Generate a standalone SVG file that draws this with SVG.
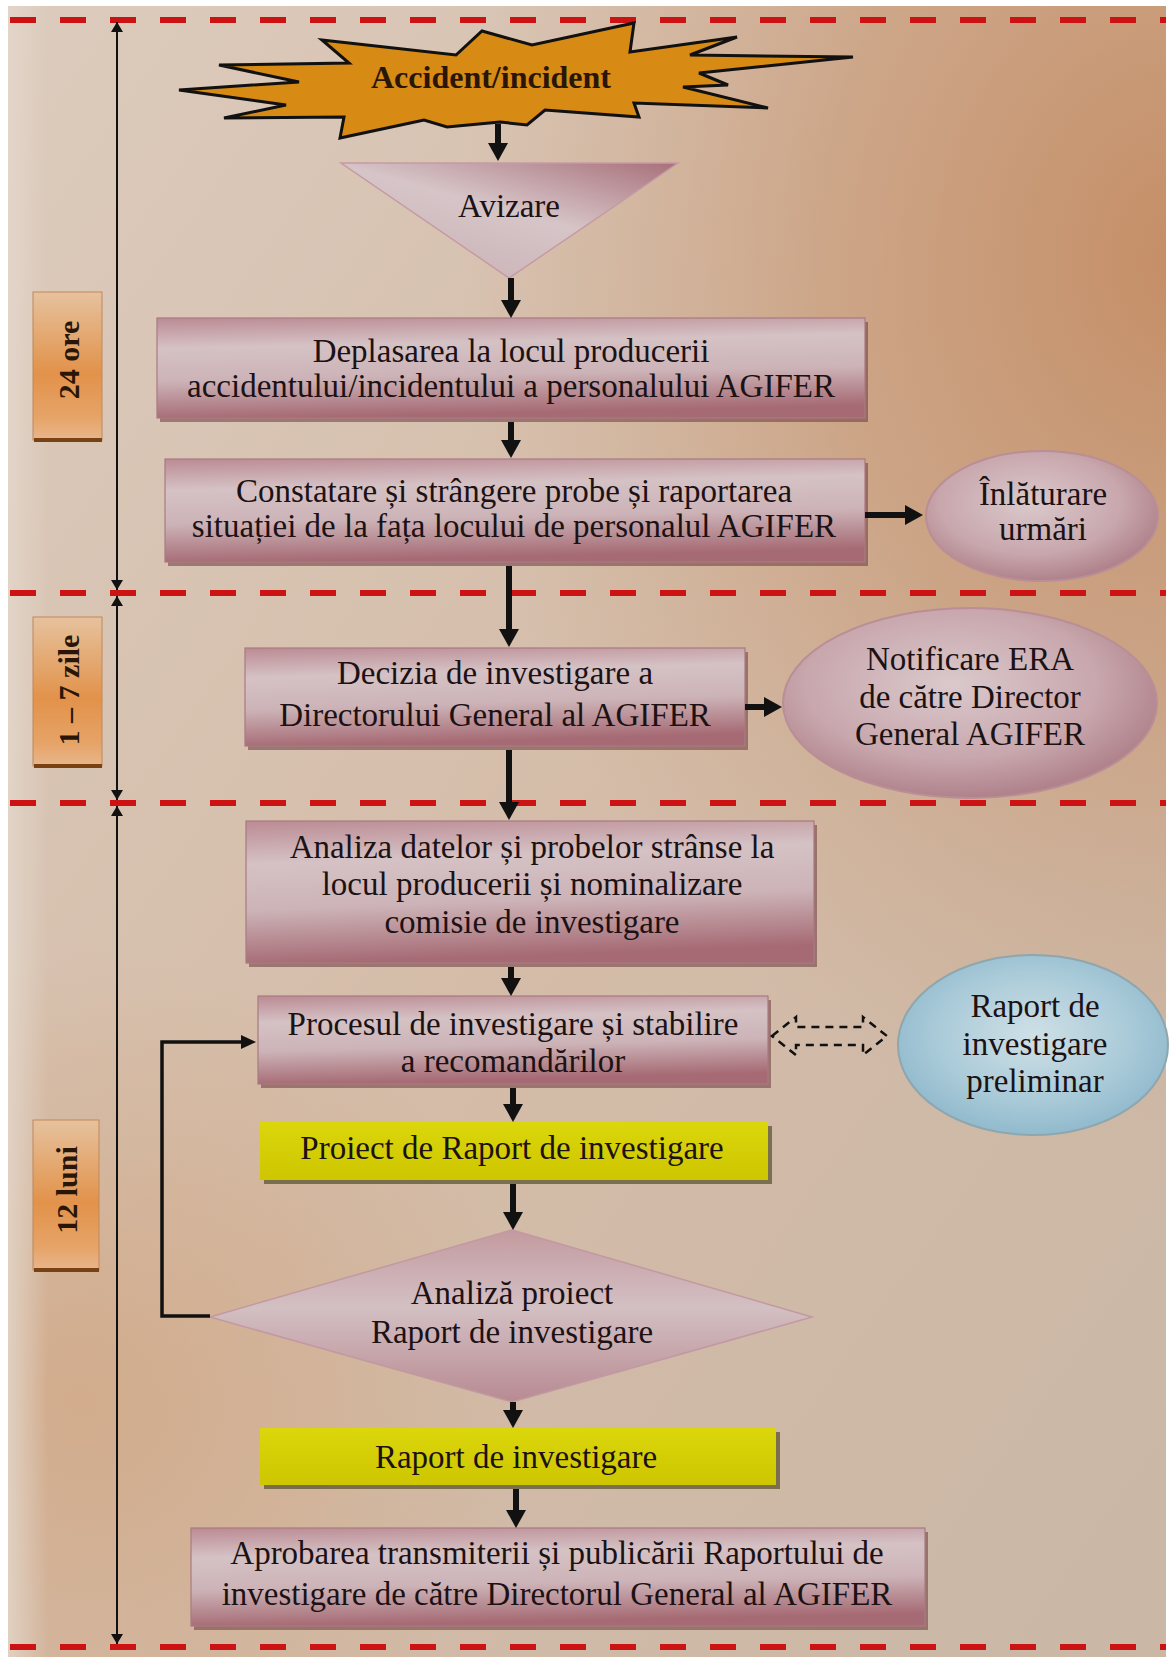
<svg xmlns="http://www.w3.org/2000/svg" width="1172" height="1662" viewBox="0 0 1172 1662">
<style>
.t{font-family:"Liberation Serif","Times New Roman",serif;font-size:33px;fill:#1c1214;text-anchor:middle}
.tb{font-family:"Liberation Serif","Times New Roman",serif;font-weight:bold;fill:#2a1608;text-anchor:middle}
.dash{stroke:#cc1212;stroke-width:6;stroke-dasharray:26 24;fill:none}
.tl{stroke:#111;stroke-width:2;fill:none;marker-start:url(#tah);marker-end:url(#tah)}
.ar{stroke:#111;stroke-width:6;fill:none;marker-end:url(#ah)}
.box{fill:url(#gBox);stroke:#a87a82;stroke-width:1.2}
.shd{fill:#6e3a3c;opacity:.55}
.ybox{fill:url(#gY)}
.yshd{fill:#5e5530;opacity:.75}
.lbl{fill:url(#gLbl);stroke:#c08858;stroke-width:1}
.lblb{stroke:#7a4212;stroke-width:4}
</style>
<defs>
<linearGradient id="bgBase" x1="0" y1="0" x2="1" y2="1">
<stop offset="0" stop-color="#dccbbd"/>
<stop offset="0.5" stop-color="#d4bca8"/>
<stop offset="1" stop-color="#cab7a6"/>
</linearGradient>
<linearGradient id="bgLeft" x1="0" y1="0" x2="1" y2="0">
<stop offset="0" stop-color="#e4d8cc" stop-opacity="0.8"/>
<stop offset="1" stop-color="#e4d8cc" stop-opacity="0"/>
</linearGradient>
<radialGradient id="bgOr" cx="0" cy="0" r="1" gradientUnits="userSpaceOnUse" gradientTransform="translate(1180,260) scale(720,880)">
<stop offset="0" stop-color="#c3895f" stop-opacity="0.9"/>
<stop offset="0.5" stop-color="#c6926c" stop-opacity="0.55"/>
<stop offset="1" stop-color="#c9a080" stop-opacity="0"/>
</radialGradient>
<radialGradient id="bgOr2" cx="80" cy="1400" r="450" gradientUnits="userSpaceOnUse">
<stop offset="0" stop-color="#d0a27c" stop-opacity="0.65"/>
<stop offset="1" stop-color="#d0a27c" stop-opacity="0"/>
</radialGradient>
<linearGradient id="gBox" x1="0" y1="0" x2="0.15" y2="1">
<stop offset="0" stop-color="#bb8b93"/>
<stop offset="0.3" stop-color="#d5c2c5"/>
<stop offset="0.62" stop-color="#ccb3b7"/>
<stop offset="1" stop-color="#a66a74"/>
</linearGradient>
<linearGradient id="gTri" x1="1" y1="0" x2="0.2" y2="1">
<stop offset="0" stop-color="#a8707a"/>
<stop offset="0.5" stop-color="#d6c5c8"/>
<stop offset="1" stop-color="#c9b2b6"/>
</linearGradient>
<linearGradient id="gDia" x1="0" y1="0" x2="0" y2="1">
<stop offset="0" stop-color="#c39aa0"/>
<stop offset="0.45" stop-color="#d3c0c3"/>
<stop offset="1" stop-color="#b88a92"/>
</linearGradient>
<radialGradient id="gEl" cx="0.45" cy="0.4" r="0.6">
<stop offset="0" stop-color="#dac9cc"/>
<stop offset="0.65" stop-color="#c8a7ad"/>
<stop offset="1" stop-color="#b0828b"/>
</radialGradient>
<radialGradient id="gBlue" cx="0.5" cy="0.45" r="0.6">
<stop offset="0" stop-color="#cfe0e6"/>
<stop offset="0.6" stop-color="#a9cad8"/>
<stop offset="1" stop-color="#8bb6ca"/>
</radialGradient>
<linearGradient id="gY" x1="0" y1="0" x2="0" y2="1">
<stop offset="0" stop-color="#dcd60c"/>
<stop offset="1" stop-color="#cdc600"/>
</linearGradient>
<linearGradient id="gLbl" x1="0" y1="0" x2="0" y2="1">
<stop offset="0" stop-color="#e6c29e"/>
<stop offset="0.55" stop-color="#e2924a"/>
<stop offset="0.85" stop-color="#e6a468"/>
<stop offset="1" stop-color="#e8b68c"/>
</linearGradient>
<marker id="ah" viewBox="0 0 18 20" refX="6" refY="10" markerWidth="18" markerHeight="20" markerUnits="userSpaceOnUse" orient="auto">
<path d="M0,0 L18,10 L0,20 z" fill="#111"/>
</marker>
<marker id="ahs" viewBox="0 0 15 14" refX="5" refY="7" markerWidth="15" markerHeight="14" markerUnits="userSpaceOnUse" orient="auto">
<path d="M0,0 L15,7 L0,14 z" fill="#111"/>
</marker>
<marker id="tah" viewBox="0 0 10 12" refX="10" refY="6" markerWidth="10" markerHeight="12" markerUnits="userSpaceOnUse" orient="auto-start-reverse">
<path d="M0,0 L10,6 L0,12 z" fill="#111"/>
</marker>
</defs>

<g id="background">
<rect x="0" y="0" width="1172" height="1662" fill="#ffffff"/>
<rect x="8" y="6" width="1158" height="1651" fill="url(#bgBase)"/>
<rect x="8" y="6" width="1158" height="1651" fill="url(#bgOr)"/>
<rect x="8" y="6" width="1158" height="1651" fill="url(#bgOr2)"/>
<rect x="8" y="6" width="40" height="1651" fill="url(#bgLeft)"/>
</g>

<g id="separators">
<line class="dash" x1="10" y1="20" x2="1166" y2="20"/>
<line class="dash" x1="10" y1="593" x2="1166" y2="593"/>
<line class="dash" x1="10" y1="803" x2="1166" y2="803"/>
<line class="dash" x1="10" y1="1647" x2="1166" y2="1647"/>
</g>

<g id="time-24ore">
<rect class="lbl" x="33" y="292" width="69" height="148"/>
<line class="lblb" x1="34" y1="440" x2="102" y2="440"/>
<text class="tb" font-size="30" transform="translate(69,360) rotate(-90)" y="10">24 ore</text>
</g>
<g id="time-1-7zile">
<rect class="lbl" x="33" y="617" width="69" height="149"/>
<line class="lblb" x1="34" y1="766" x2="102" y2="766"/>
<text class="tb" font-size="30" transform="translate(69,690) rotate(-90)" y="10">1 – 7 zile</text>
</g>
<g id="time-12luni">
<rect class="lbl" x="33" y="1120" width="66" height="150"/>
<line class="lblb" x1="34" y1="1270" x2="99" y2="1270"/>
<text class="tb" font-size="30" transform="translate(67,1190) rotate(-90)" y="10">12 luni</text>
</g>

<g id="n-accident">
<polygon points="322,40 456,55 482,31 532,45 634,23 630,52 737,37 690,55 853,57 699,73 728,85 683,87 768,108 634,103 639,117 545,110 527,125 500,122 447,127 424,120 340,138 344,117 224,118 286,105 179,90 299,82 219,65 349,63" fill="#d78a14" stroke="#111" stroke-width="3" stroke-linejoin="miter"/>
<text class="tb" font-size="32" x="491" y="88" fill="#1a0c04">Accident/incident</text>
</g>

<g id="n-avizare">
<polygon points="341,163 678,163 509,278" fill="url(#gTri)" stroke="#c79aa2" stroke-width="1.5"/>
<text class="t" x="509" y="217">Avizare</text>
</g>

<g id="n-deplasarea">
<rect class="shd" x="160" y="322" width="708" height="100"/>
<rect class="box" x="157" y="318" width="708" height="100"/>
<text class="t" x="511" y="362">Deplasarea la locul producerii</text>
<text class="t" x="511" y="397">accidentului/incidentului a personalului AGIFER</text>
</g>

<g id="n-constatare">
<rect class="shd" x="168" y="463" width="700" height="103"/>
<rect class="box" x="165" y="459" width="700" height="103"/>
<text class="t" x="514" y="502">Constatare și strângere probe și raportarea</text>
<text class="t" x="514" y="537">situației de la fața locului de personalul AGIFER</text>
</g>

<g id="n-inlaturare">
<ellipse cx="1042" cy="516" rx="116" ry="65" fill="url(#gEl)" stroke="#b98e96" stroke-width="2"/>
<text class="t" x="1043" y="505">Înlăturare</text>
<text class="t" x="1043" y="540">urmări</text>
</g>

<g id="n-decizia">
<rect class="shd" x="248" y="652" width="500" height="98"/>
<rect class="box" x="245" y="648" width="500" height="98"/>
<text class="t" x="495" y="684">Decizia de investigare a</text>
<text class="t" x="495" y="726">Directorului General al AGIFER</text>
</g>

<g id="n-notificare">
<ellipse cx="970" cy="703" rx="187" ry="95" fill="url(#gEl)" stroke="#b98e96" stroke-width="2"/>
<text class="t" x="970" y="670">Notificare ERA</text>
<text class="t" x="970" y="708">de către Director</text>
<text class="t" x="970" y="745">General AGIFER</text>
</g>

<g id="n-analiza">
<rect class="shd" x="249" y="825" width="568" height="142"/>
<rect class="box" x="246" y="821" width="568" height="142"/>
<text class="t" x="532" y="858">Analiza datelor și probelor strânse la</text>
<text class="t" x="532" y="895">locul producerii și nominalizare</text>
<text class="t" x="532" y="933">comisie de investigare</text>
</g>

<g id="n-procesul">
<rect class="shd" x="261" y="1000" width="510" height="88"/>
<rect class="box" x="258" y="996" width="510" height="88"/>
<text class="t" x="513" y="1035">Procesul de investigare și stabilire</text>
<text class="t" x="513" y="1072">a recomandărilor</text>
</g>

<g id="n-raport-preliminar">
<ellipse cx="1033" cy="1045" rx="135" ry="90" fill="url(#gBlue)" stroke="#8ea6ae" stroke-width="2"/>
<text class="t" x="1035" y="1017">Raport de</text>
<text class="t" x="1035" y="1055">investigare</text>
<text class="t" x="1035" y="1092">preliminar</text>
</g>

<g id="n-proiect">
<rect class="yshd" x="264" y="1126" width="508" height="58"/>
<rect class="ybox" x="260" y="1122" width="508" height="58"/>
<text class="t" x="512" y="1159">Proiect de Raport de investigare</text>
</g>

<g id="n-analiza-proiect">
<polygon points="512,1230 812,1317 512,1402 210,1317" fill="url(#gDia)" stroke="#c299a1" stroke-width="1.5"/>
<text class="t" x="512" y="1304">Analiză proiect</text>
<text class="t" x="512" y="1343">Raport de investigare</text>
</g>

<g id="n-raport">
<rect class="yshd" x="264" y="1432" width="516" height="57"/>
<rect class="ybox" x="260" y="1428" width="516" height="57"/>
<text class="t" x="516" y="1468">Raport de investigare</text>
</g>

<g id="n-aprobarea">
<rect class="shd" x="194" y="1532" width="734" height="98"/>
<rect class="box" x="191" y="1528" width="734" height="98"/>
<text class="t" x="557" y="1564">Aprobarea transmiterii și publicării Raportului de</text>
<text class="t" x="557" y="1605">investigare de către Directorul General al AGIFER</text>
</g>

<g id="connectors">
<line class="tl" x1="117" y1="22" x2="117" y2="590"/>
<line class="tl" x1="117" y1="596" x2="117" y2="800"/>
<line class="tl" x1="117" y1="806" x2="117" y2="1644"/>
<line class="ar" x1="498" y1="124" x2="498" y2="149"/>
<line class="ar" x1="511" y1="278" x2="511" y2="306"/>
<line class="ar" x1="511" y1="422" x2="511" y2="446"/>
<line class="ar" x1="865" y1="515" x2="911" y2="515"/>
<line class="ar" x1="509" y1="566" x2="509" y2="635"/>
<line class="ar" x1="745" y1="707" x2="770" y2="707"/>
<line class="ar" x1="509" y1="750" x2="509" y2="808"/>
<line class="ar" x1="511" y1="967" x2="511" y2="984"/>
<line class="ar" x1="513" y1="1088" x2="513" y2="1110"/>
<line class="ar" x1="513" y1="1184" x2="513" y2="1218"/>
<line class="ar" x1="513" y1="1402" x2="513" y2="1416"/>
<line class="ar" x1="516" y1="1489" x2="516" y2="1516"/>
<polyline points="210,1316 162,1316 162,1042 246,1042" fill="none" stroke="#111" stroke-width="3.5" marker-end="url(#ahs)"/>
<polygon points="772,1036 796,1017 796,1027 863,1027 863,1017 887,1036 863,1055 863,1045 796,1045 796,1055" fill="none" stroke="#111" stroke-width="2.5" stroke-dasharray="8 6"/>
</g>
</svg>
